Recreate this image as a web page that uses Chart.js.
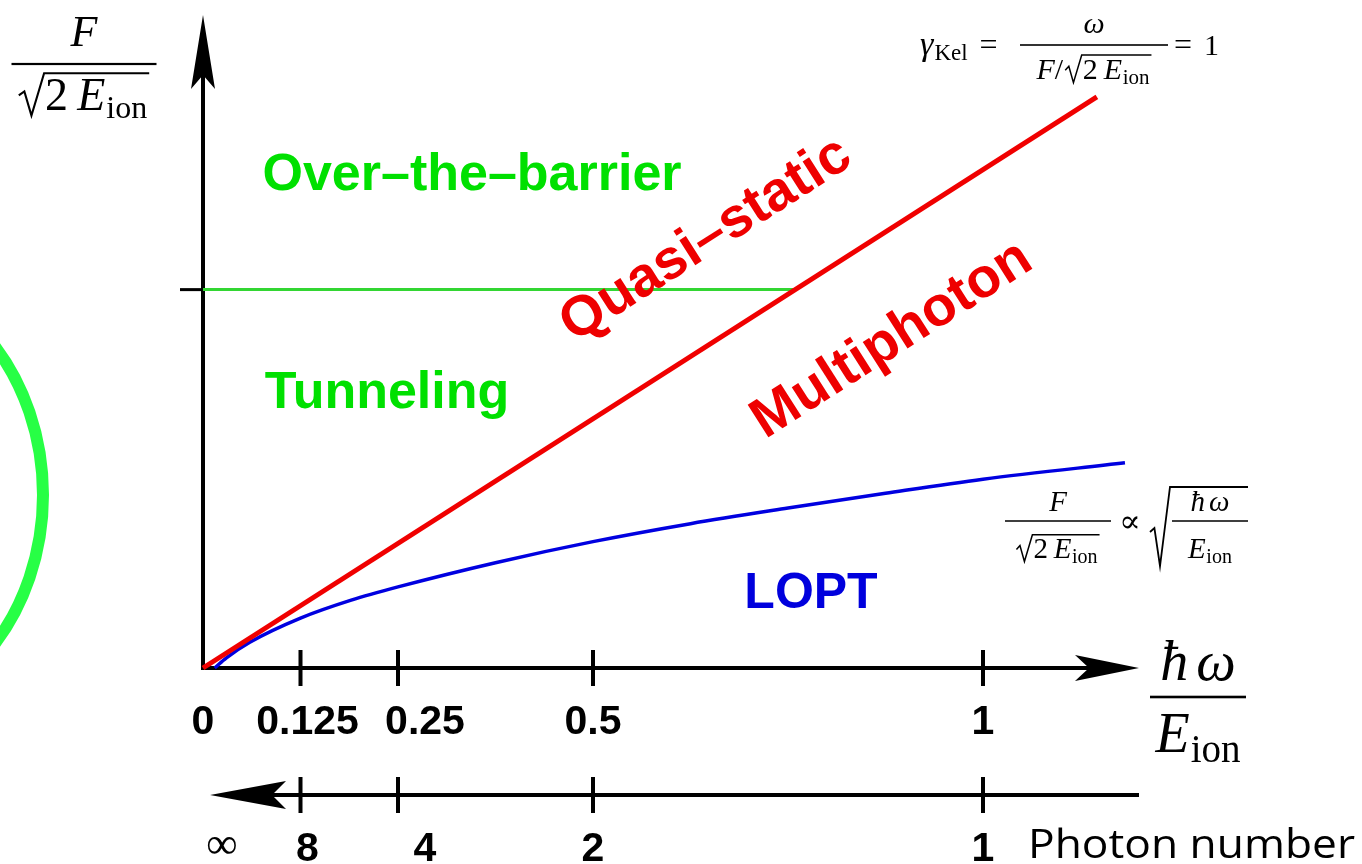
<!DOCTYPE html>
<html>
<head>
<meta charset="utf-8">
<script src="https://cdn.jsdelivr.net/npm/chart.js@4.4.1/dist/chart.umd.min.js"></script>
<style>
  html, body { margin: 0; padding: 0; background: #fff; }
  canvas { display: block; }
</style>
</head>
<body>
<canvas id="regimes" width="1362" height="864"></canvas>
<script>
// photon energy axis, hbar*omega / E_ion
const energyTicks = [0, 0.125, 0.25, 0.5, 1];
const energyTickLabels = ['0', '0.125', '0.25', '0.5', '1'];
// photon number axis (same tick positions)
const photonTickLabels = ['∞', '8', '4', '2', '1'];

// gamma_Kel = 1 boundary
const keldyshX = [0, 1.146];
const keldyshY = [0, 0.732];
// over-the-barrier threshold
const barrierX = [0, 0.759];
const barrierY = [0.485, 0.485];
// LOPT boundary, F ~ sqrt(hbar*omega)
const loptX = [0.015, 0.03, 0.06, 0.125, 0.19, 0.25, 0.375, 0.5, 0.625, 0.75, 0.875, 1.0, 1.182];
const loptY = [0, 0.013, 0.033, 0.064, 0.087, 0.104, 0.135, 0.162, 0.185, 0.205, 0.224, 0.242, 0.263];

const regionLabels = ['Over–the–barrier', 'Tunneling', 'Quasi–static', 'Multiphoton', 'LOPT'];

const toPts = (xs, ys) => xs.map((x, i) => ({ x: x, y: ys[i] }));

const serif = '"Liberation Serif", "DejaVu Serif", serif';
const sans = '"Liberation Sans", Arial, Helvetica, sans-serif';
const it = (s) => `italic ${s}px ${serif}`;
const rm = (s) => `${s}px ${serif}`;

// --- tiny formula renderer: runs of text pieces, roots and fractions ---
function drawRadical(ctx, x, rw, topY, botY, hookY, endX, lw) {
  ctx.lineWidth = lw;
  ctx.beginPath();
  ctx.moveTo(x, hookY + 2);
  ctx.lineTo(x + rw * 0.22, hookY - 2);
  ctx.lineTo(x + rw * 0.5, botY);
  ctx.lineTo(x + rw, topY);
  ctx.lineTo(endX, topY);
  ctx.stroke();
}

function runWidth(ctx, run) {
  let w = 0;
  for (const p of run) {
    if (p.root) w += p.rw + runWidth(ctx, p.root) + 3;
    else {
      ctx.font = p.font;
      w += ctx.measureText(p.t).width + (p.pad || 0);
    }
  }
  return w;
}

function drawRun(ctx, run, x, y) {
  for (const p of run) {
    if (p.root) {
      const w = runWidth(ctx, p.root);
      drawRadical(ctx, x, p.rw, y - p.h, y + p.d, y - p.h * 0.45, x + p.rw + w + 3, p.lw);
      drawRun(ctx, p.root, x + p.rw + 1, y);
      x += p.rw + w + 3;
    } else {
      ctx.font = p.font;
      ctx.fillText(p.t, x, y + (p.dy || 0));
      x += ctx.measureText(p.t).width + (p.pad || 0);
    }
  }
  return x;
}

function drawCentered(ctx, run, cx, y) {
  drawRun(ctx, run, cx - runWidth(ctx, run) / 2, y);
}

function drawFrac(ctx, cx, barY, barW, lw, num, numY, den, denY) {
  ctx.fillRect(cx - barW / 2, barY - lw / 2, barW, lw);
  drawCentered(ctx, num, cx, numY);
  drawCentered(ctx, den, cx, denY);
}

const eIon = (s) => [
  { t: 'E', font: it(s), pad: s * 0.02 },
  { t: 'ion', font: rm(Math.round(s * 0.7)), dy: s * 0.17 }
];
const sqrt2E = (s) => ({
  root: [{ t: '2', font: rm(s), pad: s * 0.2 }].concat(eIon(s)),
  rw: s * 0.55, h: s * 0.8, d: s * 0.12, lw: Math.max(1.5, s / 22)
});

function arrowHead(ctx, tipX, tipY, dx, dy, len, half, notch) {
  const bx = tipX - dx * len, by = tipY - dy * len;
  const nx = -dy, ny = dx;
  ctx.beginPath();
  ctx.moveTo(tipX, tipY);
  ctx.lineTo(bx + nx * half, by + ny * half);
  ctx.lineTo(tipX - dx * (len - notch), tipY - dy * (len - notch));
  ctx.lineTo(bx - nx * half, by - ny * half);
  ctx.closePath();
  ctx.fill();
}

// axes with arrows, ticks and the photon-number scale
const arrowAxes = {
  id: 'arrowAxes',
  beforeDatasetsDraw(chart) {
    const { ctx, chartArea, scales: { x, y } } = chart;
    const x0 = x.getPixelForValue(0);
    const y0 = y.getPixelForValue(0);
    const photonY = 795;
    ctx.save();
    ctx.fillStyle = '#000';
    ctx.strokeStyle = '#000';
    ctx.lineWidth = 4;
    ctx.lineCap = 'butt';

    // vertical axis
    ctx.beginPath();
    ctx.moveTo(x0, y0 + 2);
    ctx.lineTo(x0, chartArea.top + 60);
    ctx.stroke();
    arrowHead(ctx, x0, chartArea.top, 0, -1, 74, 12, 14);

    // horizontal axis
    ctx.beginPath();
    ctx.moveTo(x0 - 2, y0);
    ctx.lineTo(chartArea.right - 50, y0);
    ctx.stroke();
    arrowHead(ctx, chartArea.right, y0, 1, 0, 64, 13, 14);

    // threshold tick on the vertical axis
    const yb = y.getPixelForValue(barrierY[0]);
    ctx.lineWidth = 3;
    ctx.beginPath();
    ctx.moveTo(x0 - 23, yb);
    ctx.lineTo(x0, yb);
    ctx.stroke();

    // photon number axis
    ctx.lineWidth = 4;
    ctx.beginPath();
    ctx.moveTo(x0 + 60, photonY);
    ctx.lineTo(chartArea.right, photonY);
    ctx.stroke();
    arrowHead(ctx, x0 + 7, photonY, -1, 0, 76, 14, 14);

    energyTicks.forEach((v) => {
      if (v === 0) return;
      const px = x.getPixelForValue(v);
      ctx.beginPath();
      ctx.moveTo(px, y0 - 18);
      ctx.lineTo(px, y0 + 18);
      ctx.moveTo(px, photonY - 18);
      ctx.lineTo(px, photonY + 18);
      ctx.stroke();
    });

    // green ring at the left edge
    ctx.strokeStyle = '#27ff45';
    ctx.lineWidth = 12;
    ctx.beginPath();
    ctx.ellipse(-150, 495, 193, 225, 0, 0, Math.PI * 2);
    ctx.stroke();
    ctx.restore();
  }
};

// region names, tick labels and formulas
const annotations = {
  id: 'annotations',
  afterDatasetsDraw(chart) {
    const { ctx, scales: { x, y } } = chart;
    ctx.save();
    ctx.textBaseline = 'alphabetic';

    // tick labels
    const tickShift = [0, 7, 27, 0, 0];
    ctx.fillStyle = '#000';
    ctx.textAlign = 'center';
    energyTicks.forEach((v, i) => {
      const px = x.getPixelForValue(v) + tickShift[i];
      ctx.font = `bold 41px ${sans}`;
      ctx.fillText(energyTickLabels[i], px, 734);
      const lab = photonTickLabels[i];
      if (lab === '∞') {
        ctx.font = rm(44);
        ctx.fillText(lab, px + 19, 858);
      } else {
        ctx.font = `bold 41px ${sans}`;
        ctx.fillText(lab, px, 861);
      }
    });
    ctx.textAlign = 'left';
    ctx.font = '41px "Open Sans", "Noto Sans", sans-serif';
    const pn = 'Photon number';
    const pnW = ctx.measureText(pn).width;
    ctx.save();
    ctx.translate(1028, 858);
    ctx.scale(327 / pnW, 1);
    ctx.fillText(pn, 0, 0);
    ctx.restore();

    // region names
    ctx.textAlign = 'center';
    ctx.textBaseline = 'middle';
    ctx.font = `bold 52px ${sans}`;
    ctx.fillStyle = '#00e000';
    ctx.fillText(regionLabels[0], 472, 176);
    ctx.fillText(regionLabels[1], 387, 394);
    ctx.font = `bold 50px ${sans}`;
    ctx.fillStyle = '#0000dd';
    ctx.fillText(regionLabels[4], 811, 594);

    const ang = Math.atan2(
      y.getPixelForValue(keldyshY[1]) - y.getPixelForValue(keldyshY[0]),
      x.getPixelForValue(keldyshX[1]) - x.getPixelForValue(keldyshX[0])
    );
    ctx.font = `bold 56px ${sans}`;
    ctx.fillStyle = '#ee0000';
    [[regionLabels[2], 706, 240], [regionLabels[3], 892, 340]].forEach(([t, cx, cy]) => {
      ctx.save();
      ctx.translate(cx, cy);
      ctx.rotate(ang);
      ctx.fillText(t, 0, 0);
      ctx.restore();
    });

    // formulas
    ctx.textAlign = 'left';
    ctx.textBaseline = 'alphabetic';
    ctx.fillStyle = '#000';
    ctx.strokeStyle = '#000';

    // F / sqrt(2 E_ion) on the vertical axis
    drawFrac(ctx, 84, 64, 145, 2.2, [{ t: 'F', font: it(44) }], 46, [sqrt2E(46)], 110);

    // gamma_Kel = omega / (F / sqrt(2 E_ion)) = 1
    drawRun(ctx, [
      { t: 'γ', font: it(34), pad: 1 },
      { t: 'Kel', font: rm(23), dy: 5, pad: 12 },
      { t: '=', font: rm(32) }
    ], 920, 55);
    drawFrac(ctx, 1094, 45, 148, 1.6, [{ t: 'ω', font: it(30) }], 33,
      [{ t: 'F', font: it(30) }, { t: '/', font: rm(30), pad: 2 }, sqrt2E(30)], 79);
    drawRun(ctx, [{ t: '=', font: rm(32), pad: 12 }, { t: '1', font: rm(30) }], 1174, 55);

    // F / sqrt(2 E_ion) ∝ sqrt(hbar omega / E_ion)
    drawFrac(ctx, 1058, 521, 106, 1.5, [{ t: 'F', font: it(29) }], 511, [sqrt2E(29)], 558);
    ctx.font = `32px "DejaVu Serif", ${serif}`;
    ctx.fillText('∝', 1119, 532);
    drawRadical(ctx, 1150, 20, 487, 566, 530, 1248, 1.8);
    drawFrac(ctx, 1210, 521, 76, 1.5,
      [{ t: 'ħ', font: it(29), pad: 4 }, { t: 'ω', font: it(29) }], 511, eIon(29), 558);

    // hbar omega / E_ion at the end of the energy axis
    drawFrac(ctx, 1198, 697, 96, 2.6,
      [{ t: 'ħ', font: it(56), pad: 8 }, { t: 'ω', font: it(56) }], 680, eIon(56), 752);

    ctx.restore();
  }
};

new Chart(document.getElementById('regimes'), {
  type: 'scatter',
  data: {
    datasets: [
      {
        label: 'γ = 1',
        data: toPts(keldyshX, keldyshY),
        showLine: true,
        borderColor: '#f00000',
        borderWidth: 5,
        pointRadius: 0,
        clip: false
      },
      {
        label: 'barrier',
        data: toPts(barrierX, barrierY),
        showLine: true,
        borderColor: '#33d633',
        borderWidth: 3,
        pointRadius: 0,
        clip: false
      },
      {
        label: 'LOPT',
        data: toPts(loptX, loptY),
        showLine: true,
        borderColor: '#0000e0',
        borderWidth: 3.5,
        pointRadius: 0,
        cubicInterpolationMode: 'monotone',
        clip: false
      }
    ]
  },
  options: {
    responsive: false,
    animation: false,
    devicePixelRatio: 1,
    layout: { padding: { left: 203, right: 223, top: 15, bottom: 196 } },
    scales: {
      x: { type: 'linear', min: 0, max: 1.2, display: false },
      y: { type: 'linear', min: 0, max: 0.837, display: false }
    },
    plugins: {
      legend: { display: false },
      tooltip: { enabled: false }
    }
  },
  plugins: [arrowAxes, annotations]
});
</script>
</body>
</html>
